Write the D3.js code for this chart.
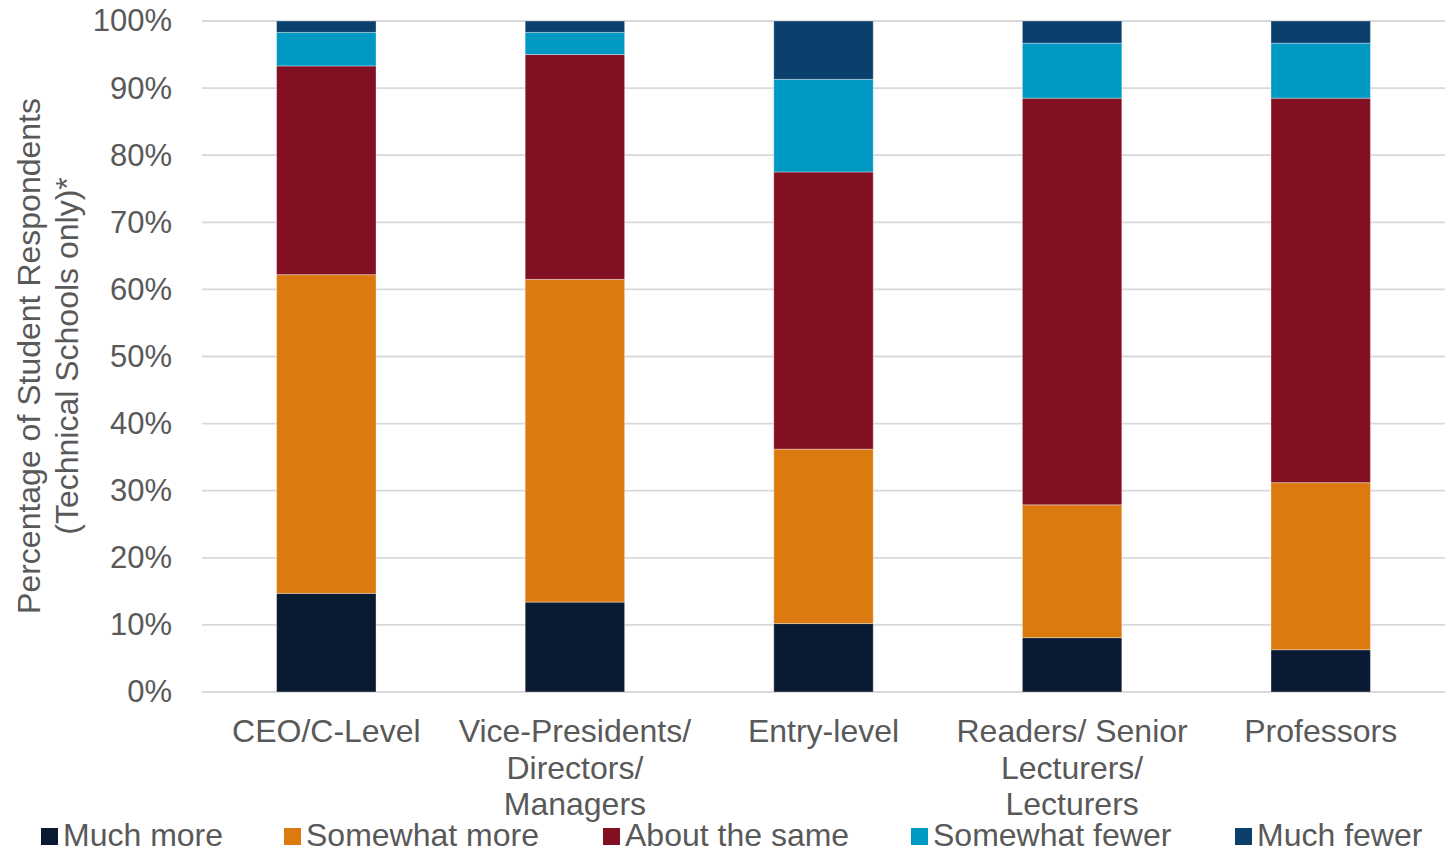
<!DOCTYPE html>
<html>
<head>
<meta charset="utf-8">
<script src="https://cdn.jsdelivr.net/npm/d3@7"></script>
<style>
  html, body { margin: 0; padding: 0; background: #fff; }
  svg { display: block; font-family: "Liberation Sans", Arial, sans-serif; }
</style>
</head>
<body>
<svg id="chart" width="1455" height="852"></svg>
<script>
// Job-level categories (multi-line labels)
const categories = ["CEO/C-Level", "Vice-Presidents/ Directors/ Managers", "Entry-level", "Readers/ Senior Lecturers/ Lecturers", "Professors"];
const categoryLines = [
  ["CEO/C-Level"],
  ["Vice-Presidents/", "Directors/", "Managers"],
  ["Entry-level"],
  ["Readers/ Senior", "Lecturers/", "Lecturers"],
  ["Professors"]
];

// Response series, stacked bottom to top (percent of respondents)
const seriesNames = ["Much more", "Somewhat more", "About the same", "Somewhat fewer", "Much fewer"];
const muchMore      = [14.7, 13.4, 10.2,  8.1,  6.3];
const somewhatMore  = [47.5, 48.1, 26.0, 19.8, 24.9];
const aboutSame     = [31.1, 33.5, 41.3, 60.6, 57.3];
const somewhatFewer = [ 5.0,  3.3, 13.8,  8.2,  8.2];
const muchFewer     = [ 1.7,  1.7,  8.7,  3.3,  3.3];

const colors = ["#0B1A33", "#DD7A0F", "#820F22", "#0099C4", "#0B3F6C"];
const yTicks = [0, 10, 20, 30, 40, 50, 60, 70, 80, 90, 100];

const seriesValues = [muchMore, somewhatMore, aboutSame, somewhatFewer, muchFewer];
const rows = categories.map((c, i) => {
  const r = { category: c };
  seriesNames.forEach((s, k) => { r[s] = seriesValues[k][i]; });
  return r;
});

const svg = d3.select("#chart");
const textColor = "#595959";
const tickFont = 31;
const labelFont = 32;

const x = d3.scaleBand().domain(categories).range([202, 1445]).paddingInner(0.6).paddingOuter(0.3);
const y = d3.scaleLinear().domain([0, 100]).range([692, 21]);

// Horizontal gridlines
svg.append("g").selectAll("line").data(yTicks).join("line")
  .attr("x1", 202).attr("x2", 1445)
  .attr("y1", d => y(d)).attr("y2", d => y(d))
  .attr("stroke", "#D9D9D9").attr("stroke-width", 1.8);

// Y axis labels
const yAxis = d3.axisLeft(y).tickValues(yTicks).tickFormat(d => d + "%").tickSize(0).tickPadding(0);
const yg = svg.append("g").attr("transform", "translate(172,0)").call(yAxis);
yg.select(".domain").remove();
yg.selectAll("text").attr("fill", textColor).style("font-size", tickFont + "px")
  .style("font-family", '"Liberation Sans", Arial, sans-serif');

// Stacked bars
const stack = d3.stack().keys(seriesNames)(rows);
svg.append("g").selectAll("g").data(stack).join("g")
  .attr("fill", (d, i) => colors[i])
  .selectAll("rect").data(d => d).join("rect")
  .attr("x", d => x(d.data.category))
  .attr("width", x.bandwidth())
  .attr("y", d => y(d[1]))
  .attr("height", d => y(d[0]) - y(d[1]))
  .attr("stroke", "#ffffff").attr("stroke-opacity", 0.35).attr("stroke-width", 1);

// Category labels
const xl = svg.append("g");
categories.forEach((c, i) => {
  const t = xl.append("text")
    .attr("x", x(c) + x.bandwidth() / 2)
    .attr("y", 742)
    .attr("text-anchor", "middle")
    .attr("fill", textColor)
    .style("font-size", labelFont + "px");
  categoryLines[i].forEach((line, j) => {
    t.append("tspan").attr("x", x(c) + x.bandwidth() / 2).attr("dy", j === 0 ? 0 : 36.5).text(line);
  });
});

// Y axis title
svg.append("text")
  .attr("transform", "translate(40,356) rotate(-90)")
  .attr("text-anchor", "middle")
  .attr("fill", textColor)
  .style("font-size", labelFont + "px")
  .text("Percentage of Student Respondents");
svg.append("text")
  .attr("transform", "translate(78,356) rotate(-90)")
  .attr("text-anchor", "middle")
  .attr("fill", textColor)
  .style("font-size", labelFont + "px")
  .text("(Technical Schools only)*");

// Legend
const legend = svg.append("g");
const legendStarts = [41, 284, 603, 911, 1235];
seriesNames.forEach((s, i) => {
  const g = legend.append("g").attr("transform", `translate(${legendStarts[i]},0)`);
  g.append("rect").attr("x", 0).attr("y", 828).attr("width", 17).attr("height", 17).attr("fill", colors[i]);
  g.append("text").attr("x", 22).attr("y", 846).attr("fill", textColor)
    .style("font-size", labelFont + "px").text(s);
});
</script>
</body>
</html>
